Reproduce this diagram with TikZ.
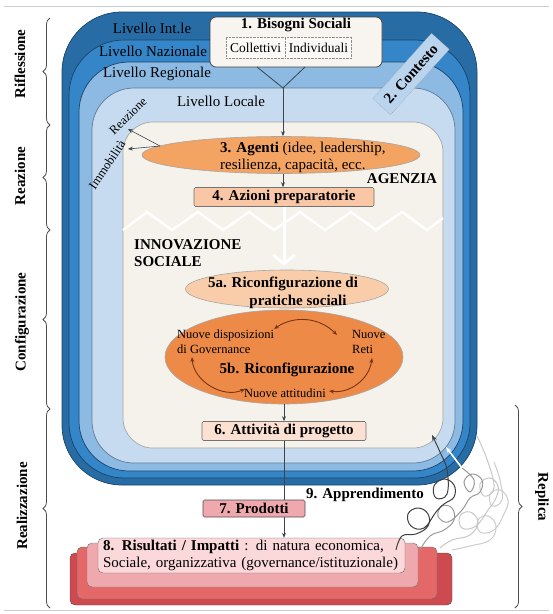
\documentclass[tikz,border=0pt]{standalone}
\usepackage{fontspec}
\setmainfont{Liberation Serif}
\usepackage{tikz}
\usetikzlibrary{
  arrows.meta,
  positioning,
  shapes.geometric,
  decorations.pathreplacing,
  calc
}
\definecolor{intblue}{RGB}{40,108,166}
\definecolor{natblue}{RGB}{52,134,200}
\definecolor{regblue}{RGB}{140,186,226}
\definecolor{locblue}{RGB}{198,219,240}
\definecolor{edgeblue}{RGB}{24,66,104}
\definecolor{cream}{RGB}{245,241,235}
\definecolor{agentorange}{RGB}{243,163,98}
\definecolor{deeporange}{RGB}{238,138,72}
\definecolor{paleorange}{RGB}{249,205,170}
\definecolor{peach}{RGB}{249,199,166}
\definecolor{lightpeach}{RGB}{252,224,210}
\definecolor{rosepink}{RGB}{240,168,175}
\definecolor{palepink}{RGB}{251,216,218}
\definecolor{coral}{RGB}{229,104,104}
\definecolor{darkred}{RGB}{204,74,80}
\definecolor{linegray}{RGB}{60,68,78}
\definecolor{arcbrown}{RGB}{120,52,20}
\newcommand{\normtxt}{\fontsize{15}{17.5}\selectfont}
\newcommand{\smalltxt}{\fontsize{12.5}{15}\selectfont}

\begin{document}
\begin{tikzpicture}[x=1pt, y=-1pt,
  ringlayer/.style={draw=edgeblue, line width=0.7pt},
  lvl/.style={font=\normtxt, inner sep=1pt},
  stepbox/.style={draw=#1, line width=0.6pt, rounded corners=1.5pt, font=\normtxt\bfseries, inner sep=1pt},
  stepbox/.default=black!55,
  oval/.style={ellipse, draw=#1, line width=0.6pt, inner sep=0pt},
  oval/.default=black!35,
  dotcell/.style={draw=black!45, densely dotted, fill=cream!40!white, font=\fontsize{13.5}{15}\selectfont, minimum height=21pt, inner sep=1pt},
  note/.style={font=\smalltxt, inner sep=1pt},
  phase/.style={font=\normtxt\bfseries, inner sep=1pt},
  flow/.style={draw=linegray, line width=0.8pt, -{Stealth[length=5pt, width=4pt]}},
  twoway/.style={draw=arcbrown, line width=0.9pt, {Stealth[length=5pt, width=4pt]}-{Stealth[length=5pt, width=4pt]}},
  phasebrace/.style={decorate, decoration={brace, amplitude=7pt}, draw=black!70, line width=0.8pt},
  scribble/.style={draw=#1, line width=1pt},
]
  \useasboundingbox (0,0) rectangle (553,614);
  \draw[black!20, line width=0.8pt] (4,6) -- (549,6);
  \draw[black!20, line width=0.8pt] (4,610) -- (549,610);

  % nested levels
  \draw[ringlayer, fill=intblue, rounded corners=60pt] (62,12) rectangle (477,485);
  \draw[ringlayer, fill=natblue, rounded corners=55pt] (69,40) rectangle (470,478);
  \draw[ringlayer, fill=regblue, rounded corners=50pt] (79,62) rectangle (463,471);
  \draw[ringlayer, draw=edgeblue!70, fill=locblue, rounded corners=42pt] (92,88) rectangle (455,463);
  \draw[draw=black!35, line width=0.7pt, fill=cream, rounded corners=30pt] (123,122) rectangle (443,448);

  \node[lvl] (intle) at (152,28) {Livello Int.le};
  \node[lvl] (naz) at (153,51) {Livello Nazionale};
  \node[lvl] (reg) at (157,74) {Livello Regionale};
  \node[lvl] (loc) at (221,101) {Livello Locale};

  % needs
  \node[draw=black!75, line width=0.7pt, fill=cream!70!white, rounded corners=6pt, minimum width=172pt, minimum height=50pt] (bisogni) at (296,42) {};
  \node[font=\normtxt\bfseries, inner sep=1pt] (bisognitit) at (296,25) {1. Bisogni Sociali};
  \node[dotcell, minimum width=59pt] (coll) at (255.5,47.5) {Collettivi};
  \node[dotcell, minimum width=66pt, right=0pt of coll] (indiv) {Individuali};

  \coordinate (funnel) at (283,88);
  \coordinate (fl) at (257,67);
  \coordinate (fr) at (305,67);
  \draw[linegray, line width=0.8pt] (fl) -- (funnel) -- (fr);

  \node[draw=black!45, densely dotted, fill=locblue!80!regblue, rotate=48, minimum width=88pt, minimum height=24pt, font=\normtxt\bfseries, inner sep=1pt] (contesto) at (411,74) {2. Contesto};

  % agents
  \node[oval, fill=agentorange, minimum width=278pt, minimum height=37pt] (agenti) at (281,155) {};
  \node[font=\normtxt, align=left, anchor=west, inner sep=0pt] (agentitxt) at (220,157.5) {\textbf{3. Agenti} (idee, leadership,\\resilienza, capacità, ecc.};
  \draw[flow] (funnel) -- (funnel |- agenti.north);

  \node[note, rotate=44] (reaz) at (128,116) {Reazione};
  \node[note, rotate=56] (immob) at (107,165) {Immobilità};
  \coordinate (agsrc) at (160,146);
  \coordinate (reazpt) at (128,129);
  \coordinate (immobpt) at (128,149);
  \draw[flow, line width=0.6pt] (agsrc) -- (reazpt);
  \draw[flow, line width=0.6pt] (agsrc) -- (immobpt);

  \node[font=\normtxt\bfseries, inner sep=1pt] (agenzia) at (402,179) {AGENZIA};

  \node[stepbox, fill=peach, minimum width=180pt, minimum height=19pt] (azioni) at (284,197) {4. Azioni preparatorie};
  \draw[flow] (agenti.south -| funnel) -- (azioni.north -| funnel);

  \draw[white, line width=2.5pt] (123,230) \foreach \k in {0,...,5} { -- ({147+51*\k},212) -- ({172+51*\k},230) } -- (443,218);

  \node[font=\normtxt\bfseries, align=left, anchor=north west, inner sep=0pt] (innov) at (134,239) {INNOVAZIONE\\SOCIALE};

  % social innovation
  \node[oval, fill=deeporange, minimum width=238pt, minimum height=94pt] (riconf5b) at (284,357) {};
  \node[oval, fill=paleorange, minimum width=203pt, minimum height=38pt] (riconf5a) at (287,289) {};
  \node[font=\normtxt\bfseries, align=center, inner sep=0pt] (riconf5atxt) at (283,293) {5a. Riconfigurazione di\\\hspace*{30pt}pratiche sociali};
  \draw[white, line width=3pt, -{Straight Barb[length=9pt, width=22pt]}, shorten >=4pt] (azioni) -- (azioni |- riconf5a.north);

  \node[note, align=left, anchor=west] (gov) at (176,342) {Nuove disposizioni\\di Governance};
  \node[note, align=left, anchor=west] (reti) at (351,342) {Nuove\\Reti};
  \node[font=\normtxt\bfseries, inner sep=1pt] (riconf5btxt) at (287,370) {5b. Riconfigurazione};
  \node[note] (attitudini) at (285,393) {Nuove attitudini};

  \coordinate (govtop) at (274,329);
  \coordinate (retitop) at (337,335);
  \coordinate (govlow) at (192,357);
  \coordinate (attleft) at (245,389);
  \coordinate (attright) at (329,391);
  \coordinate (retilow) at (372,358);
  \draw[twoway] (govtop) to[bend left=40] (retitop);
  \draw[twoway] (govlow) to[bend right=55] (attleft);
  \draw[twoway] (attright) to[bend right=45] (retilow);

  \node[stepbox, fill=lightpeach, minimum width=164pt, minimum height=19pt] (attivita) at (284,431) {6. Attività di progetto};
  \draw[flow] (riconf5b) -- (attivita);

  % results
  \draw[draw=black!70, fill=darkred, rounded corners=5pt] (70,553) rectangle (452,605);
  \draw[draw=black!60, fill=coral, rounded corners=5pt] (77,547) rectangle (437,599);
  \draw[draw=black!55, fill=rosepink, rounded corners=5pt] (87,543) rectangle (418,587);
  \node[draw=black!60, fill=palepink, rounded corners=5pt, minimum width=307pt, minimum height=35pt, text width=297pt, align=left, font=\fontsize{15}{17}\selectfont, inner xsep=5pt, inner ysep=2pt] (risultati) at (251.5,555.5) {\textbf{8. Risultati / Impatti} : di natura economica,\\Sociale, organizzativa (governance/istituzionale)};

  \draw[flow] (attivita) -- (attivita |- risultati.north);
  \node[stepbox=black!70, fill=rosepink, minimum width=102pt, minimum height=17pt] (prodotti) at (254,508.5) {7. Prodotti};

  \node[font=\normtxt\bfseries, inner sep=1pt] (apprend) at (365,495) {9. Apprendimento};

  % learning loops
  \coordinate (lplight) at (440,548);
  \coordinate (lplighttip) at (477,436);
  \coordinate (lpmid) at (420,550);
  \coordinate (lpmidend) at (462,468);
  \coordinate (whitetip) at (446,447);
  \coordinate (lpdark) at (396,550);
  \coordinate (lpdarktip) at (432,435);
  \draw[scribble=black!20] plot[smooth, tension=0.7] coordinates {(452,550) (470,546) (490,540) (496,526) (488,516) (478,520) (480,532) (494,530) (504,514) (508,500) (500,490) (490,494) (492,506) (502,500) (500,480) (494,462)};
  \draw[scribble=black!22] plot[smooth, tension=0.7] coordinates {(lplight) (452,540) (470,535) (478,522) (470,512) (460,516) (462,528) (476,526) (488,510) (496,498) (498,486) (490,478) (480,484) (484,496) (494,488) (488,462) (lplighttip)};
  \draw[scribble=black!40] plot[smooth, tension=0.7] coordinates {(lpmid) (430,536) (444,530) (454,520) (452,508) (442,506) (438,516) (448,522) (462,510) (470,498) (480,492) (482,480) (472,474) (464,482) (470,492) (474,480) (lpmidend)};
  \draw[white, line width=1.6pt, -{Stealth[length=6pt]}] (lpmidend) -- (whitetip);
  \draw[scribble=black!75, -{Stealth[length=6pt]}] plot[smooth, tension=0.7] coordinates {(lpdark) (402,536) (416,534) (428,526) (428,514) (418,508) (408,514) (411,526) (424,528) (436,512) (444,504) (454,497) (454,485) (444,479) (434,486) (436,498) (447,494) (447,470) (440,452) (lpdarktip)};

  % phases
  \draw[phasebrace] (50,125) -- (50,18);
  \draw[phasebrace] (50,230) -- (50,125);
  \draw[phasebrace] (50,409) -- (50,230);
  \draw[phasebrace] (50,608) -- (50,409);
  \draw[phasebrace] (515,405) -- (515,608);
  \node[phase, rotate=90] (rifl) at (20,64) {Riflessione};
  \node[phase, rotate=90] (reazione) at (20,176) {Reazione};
  \node[phase, rotate=90] (config) at (22,322) {Configurazione};
  \node[phase, rotate=90] (realiz) at (22,506) {Realizzazione};
  \node[phase, rotate=-90] (replica) at (542,497) {Replica};
\end{tikzpicture}
\end{document}
